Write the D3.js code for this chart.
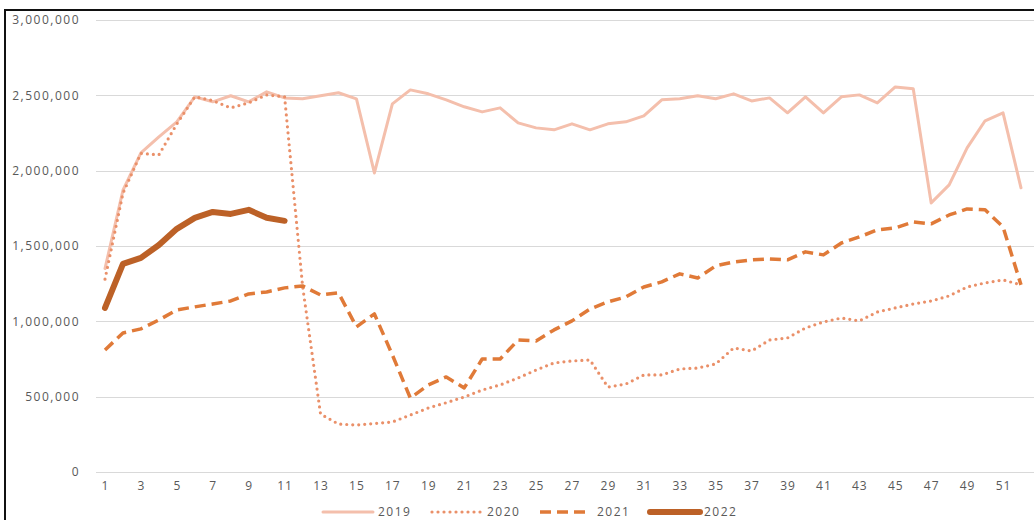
<!DOCTYPE html>
<html>
<head>
<meta charset="utf-8">
<script src="https://cdn.jsdelivr.net/npm/d3@7/dist/d3.min.js"></script>
<style>
  html, body { margin: 0; padding: 0; background: #fff; }
  svg { display: block; }
  text { font-family: "Open Sans", "Noto Sans", sans-serif; fill: #595959; }
</style>
</head>
<body>
<svg id="chart" width="1034" height="520"></svg>
<script>
// Weekly totals, weeks 1-52
const weeks = d3.range(1, 53);
const xTickLabels = d3.range(1, 53, 2);
const yTicks = [0, 500000, 1000000, 1500000, 2000000, 2500000, 3000000];

const seriesNames = ["2019", "2020", "2021", "2022"];

const values2019 = [
  1350000, 1870000, 2118000, 2224000, 2324000, 2490000, 2457000, 2497000, 2457000, 2523000,
  2483000, 2477000, 2497000, 2517000, 2477000, 1985000, 2443000, 2536000, 2510000, 2470000,
  2424000, 2390000, 2417000, 2317000, 2284000, 2271000, 2311000, 2271000, 2311000, 2324000,
  2364000, 2470000, 2477000, 2497000, 2477000, 2510000, 2463000, 2483000, 2384000, 2490000,
  2384000, 2490000, 2503000, 2450000, 2556000, 2543000, 1786000, 1906000, 2151000, 2331000,
  2384000, 1886000
];
const values2020 = [
  1280000, 1850000, 2115000, 2105000, 2310000, 2490000, 2465000, 2417000, 2450000, 2503000,
  2490000, 1235000, 385000, 318000, 312000, 322000, 332000, 378000, 425000, 460000,
  498000, 544000, 578000, 624000, 677000, 724000, 737000, 744000, 564000, 584000,
  644000, 644000, 684000, 690000, 717000, 823000, 803000, 876000, 890000, 956000,
  996000, 1022000, 1003000, 1062000, 1089000, 1115000, 1135000, 1169000, 1228000, 1255000,
  1275000, 1242000
];
const values2021 = [
  810000, 923000, 950000, 1009000, 1076000, 1096000, 1115000, 1135000, 1182000, 1195000,
  1222000, 1235000, 1175000, 1189000, 963000, 1049000, 777000, 491000, 578000, 631000,
  558000, 750000, 750000, 876000, 870000, 943000, 1003000, 1082000, 1129000, 1162000,
  1228000, 1262000, 1315000, 1288000, 1368000, 1394000, 1408000, 1414000, 1408000, 1461000,
  1441000, 1520000, 1560000, 1607000, 1620000, 1660000, 1647000, 1706000, 1746000, 1740000,
  1627000, 1242000
];
const values2022 = [
  1089000, 1381000, 1421000, 1507000, 1614000, 1687000, 1726000, 1713000, 1740000, 1687000,
  1667000
];

const allSeries = [values2019, values2020, values2021, values2022];

// Line styles per year
const styles = [
  { color: "#F4BFAC", width: 3,   dash: null,   cap: "round" },
  { color: "#EA9069", width: 3.2, dash: "0 6",  cap: "round" },
  { color: "#E07A38", width: 3.5, dash: "11 6", cap: "butt"  },
  { color: "#BC6127", width: 6,   dash: null,   cap: "round" }
];

const svg = d3.select("#chart");

const x = d3.scalePoint().domain(weeks).range([105, 1021]);
const y = d3.scaleLinear().domain([0, 3000000]).range([472, 20]);

// Outer frame
svg.append("rect")
  .attr("x", 5).attr("y", 10)
  .attr("width", 1100).attr("height", 600)
  .attr("fill", "none").attr("stroke", "#111").attr("stroke-width", 2);

// Horizontal gridlines
svg.append("g")
  .selectAll("line")
  .data(yTicks)
  .join("line")
  .attr("x1", 96).attr("x2", 1034)
  .attr("y1", d => Math.round(y(d)) + 0.5)
  .attr("y2", d => Math.round(y(d)) + 0.5)
  .attr("stroke", "#D9D9D9").attr("stroke-width", 1.2);

// Y-axis labels
const yAxis = d3.axisLeft(y).tickValues(yTicks).tickSize(0).tickPadding(0)
  .tickFormat(d3.format(","));
svg.append("g")
  .attr("transform", "translate(80,0)")
  .call(yAxis)
  .call(g => g.select(".domain").remove())
  .call(g => g.selectAll("text")
    .attr("font-size", 12).attr("letter-spacing", "1.5px")
    .attr("fill", "#595959").attr("font-family", "Open Sans, sans-serif"));

// X-axis labels
const xAxis = d3.axisBottom(x).tickValues(xTickLabels).tickSize(0).tickPadding(0);
svg.append("g")
  .attr("transform", "translate(0,481)")
  .call(xAxis)
  .call(g => g.select(".domain").remove())
  .call(g => g.selectAll("text")
    .attr("font-size", 12).attr("letter-spacing", "1px")
    .attr("fill", "#595959").attr("font-family", "Open Sans, sans-serif"));

// Series lines
const line = d3.line()
  .x((d, i) => x(weeks[i]))
  .y(d => y(d));

allSeries.forEach((vals, i) => {
  const s = styles[i];
  svg.append("path")
    .datum(vals)
    .attr("fill", "none")
    .attr("stroke", s.color)
    .attr("stroke-width", s.width)
    .attr("stroke-linecap", s.cap)
    .attr("stroke-linejoin", "round")
    .attr("stroke-dasharray", s.dash)
    .attr("d", line);
});

// Legend
const legendY = 512;
const legendItems = [
  { x1: 323, x2: 373, tx: 378 },
  { x1: 432, x2: 481, tx: 487 },
  { x1: 540, x2: 591, tx: 597 },
  { x1: 650, x2: 700, tx: 704 }
];
const legend = svg.append("g");
legendItems.forEach((p, i) => {
  const s = styles[i];
  legend.append("line")
    .attr("x1", p.x1).attr("x2", p.x2)
    .attr("y1", legendY).attr("y2", legendY)
    .attr("stroke", s.color)
    .attr("stroke-width", s.width)
    .attr("stroke-linecap", s.cap)
    .attr("stroke-dasharray", s.dash);
  legend.append("text")
    .attr("x", p.tx).attr("y", legendY)
    .attr("dy", "0.35em")
    .attr("font-size", 12).attr("letter-spacing", "1.5px")
    .text(seriesNames[i]);
});
</script>
</body>
</html>
